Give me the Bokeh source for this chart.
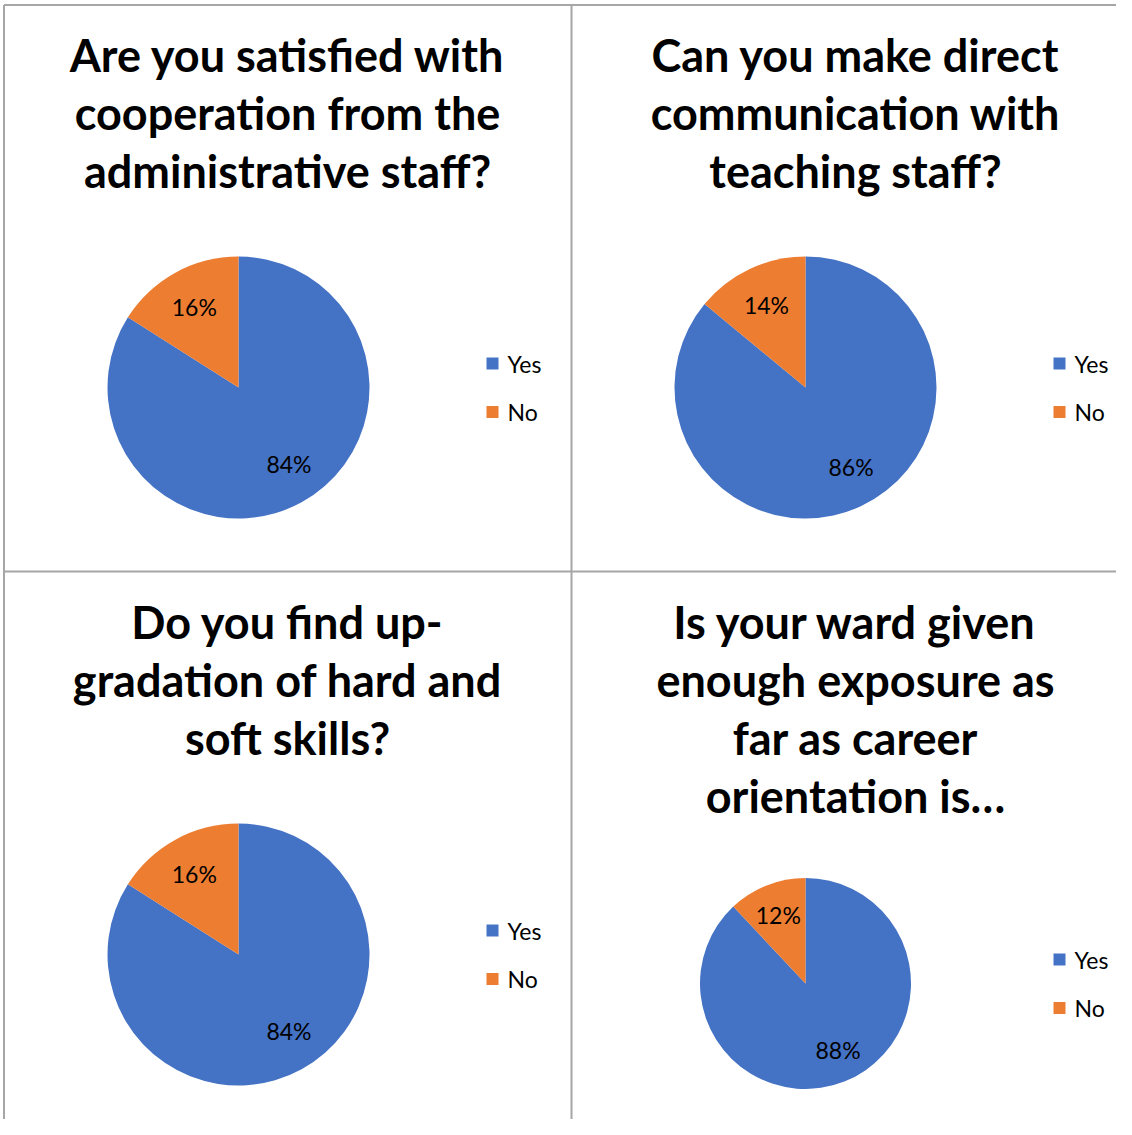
import math
from bokeh.plotting import figure
from bokeh.models import Range1d
from bokeh.core.properties import value
from bokeh.embed import file_html
from bokeh.resources import INLINE

# ---------------- data ----------------
titles = [
    ["Are you satisfied with", "cooperation from the", "administrative staff?"],
    ["Can you make direct", "communication with", "teaching staff?"],
    ["Do you find up-", "gradation of hard and", "soft skills?"],
    ["Is your ward given", "enough exposure as", "far as career", "orientation is\u2026"],
]
categories = ["Yes", "No"]
yes_pct = [84, 86, 84, 88]
no_pct = [16, 14, 16, 12]

# ---------------- layout (reference pixel space) ----------------
H = 1135
FW, FH = 1116, 1119
colors = ["#4472C4", "#ED7D31"]
centers = [(238, 387), (805, 387), (238, 954), (805, 983)]
radii = [131, 131, 131, 105.5]
title_cx = [287, 855, 287, 855]
title_base = [54, 54, 621, 621]
title_step = 58.3
legend_x = [492, 1059, 492, 1059]
legend_y = [363, 363, 930, 959]
legend_step = 48.5

FONT = "Lato"

p = figure(width=FW, height=FH, output_backend="svg", toolbar_location=None,
           x_range=Range1d(0, FW), y_range=Range1d(H - FH, H),
           min_border=0, outline_line_color=None, background_fill_color="white",
           border_fill_color="white")
p.axis.visible = False
p.grid.visible = False

def Y(y):
    return H - y

# panel borders
border_color = "#A6A6A6"
p.segment(x0=[3.5, 571, 3.5, 3.5], y0=[Y(4.5), Y(4.5), Y(571), Y(4.5)],
          x1=[FW, 571, FW, 3.5], y1=[Y(4.5), Y(H), Y(571), Y(H)],
          line_color=border_color, line_width=2)

for i in range(4):
    cx, cy = centers[i]
    r = radii[i]
    fr = [yes_pct[i] / 100.0, no_pct[i] / 100.0]
    top = math.pi / 2
    starts = [top - 2 * math.pi * fr[0], top]
    ends = [top, top + 2 * math.pi * fr[1]]
    p.wedge(x=[cx, cx], y=[Y(cy), Y(cy)], radius=r, start_angle=starts, end_angle=ends,
            fill_color=colors, line_color=None)
    mids = [top - math.pi * fr[0] + 0.08, top + math.pi * fr[1]]
    lx = [cx + 0.7 * r * math.cos(a) for a in mids]
    ly = [Y(cy) + 0.7 * r * math.sin(a) for a in mids]
    p.text(x=lx, y=ly, text=[f"{yes_pct[i]}%", f"{no_pct[i]}%"],
           text_font=value(FONT), text_font_size="23px", text_color="#000000",
           text_align="center", text_baseline="middle")
    # title
    n = len(titles[i])
    p.text(x=[title_cx[i]] * n, y=[Y(title_base[i] + k * title_step) for k in range(n)],
           text=titles[i], text_font=value(FONT), text_font_size="45px",
           text_font_style="bold", text_color="#000000",
           text_align="center", text_baseline="alphabetic")
    # legend
    ys = [Y(legend_y[i] + k * legend_step) for k in range(2)]
    p.rect(x=[legend_x[i]] * 2, y=ys, width=12, height=12, fill_color=colors, line_color=None)
    p.text(x=[legend_x[i] + 15] * 2, y=ys, text=categories,
           text_font=value(FONT), text_font_size="23px", text_color="#000000",
           text_align="left", text_baseline="middle")

open("out.html", "w").write(file_html(p, INLINE))
